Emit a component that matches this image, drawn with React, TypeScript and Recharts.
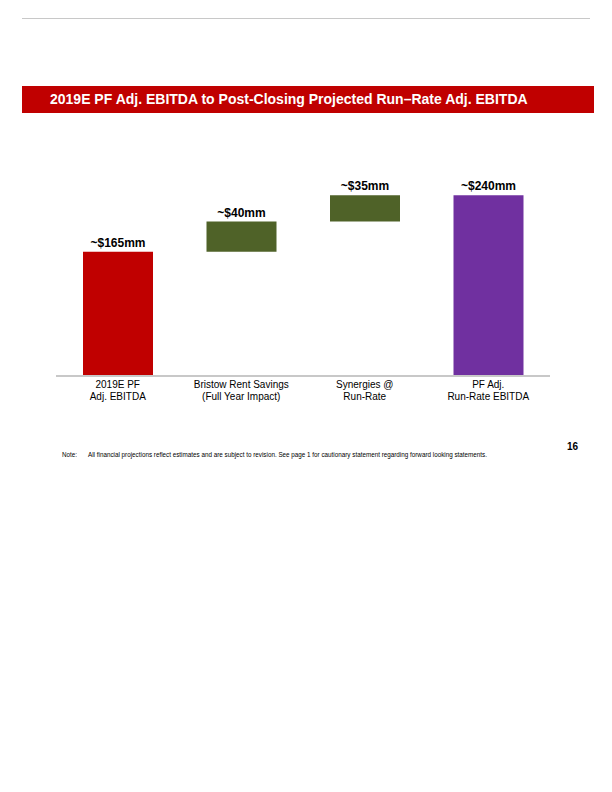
import { BarChart, Bar, XAxis, YAxis, Cell, LabelList } from "recharts";

const CATEGORIES = [
  ["2019E PF", "Adj. EBITDA"],
  ["Bristow Rent Savings", "(Full Year Impact)"],
  ["Synergies @", "Run-Rate"],
  ["PF Adj.", "Run-Rate EBITDA"],
];
const BASES = [0, 165, 205, 0];
const VALUES = [165, 40, 35, 240];
const LABELS = ["~$165mm", "~$40mm", "~$35mm", "~$240mm"];
const COLORS = ["#C00000", "#4F6228", "#4F6228", "#7030A0"];

const data = CATEGORIES.map((c, i) => ({
  name: c.join("\n"),
  base: BASES[i],
  value: VALUES[i],
  label: LABELS[i],
}));

const FONT = "'Liberation Sans', Arial, sans-serif";

// eslint-disable-next-line @typescript-eslint/no-explicit-any
function CategoryTick({ x, y, index }: any) {
  const lines = CATEGORIES[index];
  return (
    <text x={x} y={y} textAnchor="middle" fontFamily={FONT} fontSize={10} fill="#000">
      {lines.map((l, i) => (
        <tspan key={i} x={x} dy={i === 0 ? 4 : 12}>
          {l}
        </tspan>
      ))}
    </text>
  );
}

// eslint-disable-next-line @typescript-eslint/no-explicit-any
function TopLabel({ x, y, width, index }: any) {
  return (
    <text
      x={x + width / 2}
      y={y - 5}
      textAnchor="middle"
      fontFamily={FONT}
      fontSize={12}
      fontWeight={700}
      fill="#000"
    >
      {LABELS[index]}
    </text>
  );
}

export default function App() {
  return (
    <div style={{ position: "relative", width: 612, height: 792, margin: -8, background: "#fff", fontFamily: FONT }}>
      {/* top rule */}
      <div style={{ position: "absolute", left: 22, top: 18, width: 568, height: 1, background: "#c8c8c8" }} />

      {/* title banner */}
      <div
        style={{
          position: "absolute",
          left: 22,
          top: 86,
          width: 572,
          height: 27,
          background: "#C00000",
          color: "#fff",
          fontWeight: 700,
          fontSize: 14,
          lineHeight: "27px",
          paddingLeft: 28,
          boxSizing: "border-box",
        }}
      >
        2019E PF Adj. EBITDA to Post-Closing Projected Run–Rate Adj. EBITDA
      </div>

      <div style={{ position: "absolute", left: 0, top: 150 }}>
        <BarChart
          width={612}
          height={270}
          data={data}
          margin={{ top: 0, right: 62, left: 56, bottom: 0 }}
          barSize={70}
        >
          <YAxis hide domain={[0, 300]} />
          <XAxis
            dataKey="name"
            height={44}
            axisLine={{ stroke: "#c8c8c8", strokeWidth: 2 }}
            tickLine={false}
            tick={<CategoryTick />}
            interval={0}
          />
          <Bar dataKey="base" stackId="w" fill="transparent" isAnimationActive={false} />
          <Bar dataKey="value" stackId="w" isAnimationActive={false}>
            {data.map((_, i) => (
              <Cell key={i} fill={COLORS[i]} />
            ))}
            <LabelList dataKey="label" content={<TopLabel />} />
          </Bar>
        </BarChart>
      </div>

      {/* footer */}
      <div style={{ position: "absolute", left: 62, top: 451, fontSize: 6.3, color: "#000" }}>Note:</div>
      <div style={{ position: "absolute", left: 88, top: 451, fontSize: 6.3, color: "#000", whiteSpace: "nowrap" }}>
        All financial projections reflect estimates and are subject to revision. See page 1 for cautionary statement regarding forward looking statements.
      </div>
      <div style={{ position: "absolute", left: 567, top: 441, fontSize: 10, fontWeight: 700, color: "#000" }}>16</div>
    </div>
  );
}
